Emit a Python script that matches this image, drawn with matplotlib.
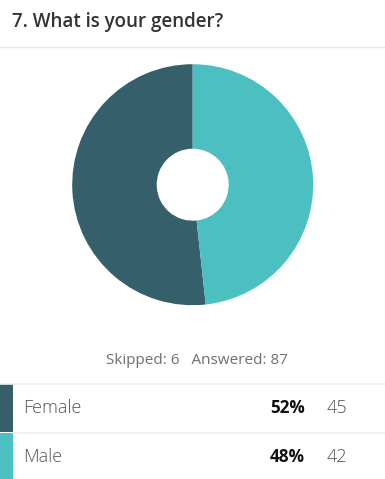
import numpy as np
import matplotlib
matplotlib.use("Agg")
from matplotlib import pyplot as plt

# Survey data
labels = ["Female", "Male"]
counts = [45, 42]
percents = ["52%", "48%"]
colors = ["#365f6c", "#4cc0c0"]
title = "7. What is your gender?"
skipped = 6
answered = 87

W, H = 385, 479

fig = plt.figure(figsize=(W / 100, H / 100), dpi=100)
fig.patch.set_facecolor("white")

# background axes in pixel coords
bg = fig.add_axes([0, 0, 1, 1])
bg.set_xlim(0, W)
bg.set_ylim(H, 0)
bg.axis("off")

bg.text(12, 22, title, fontsize=13.5, fontweight="semibold", color="#333333",
        family="Open Sans", va="center", ha="left")
bg.plot([0, W], [47, 47], color="#e8e8e8", lw=1)

# donut
cx, cy, r = 192.7, 184.7, 120.5
pie_ax = fig.add_axes([(cx - r) / W, (H - cy - r) / H, 2 * r / W, 2 * r / H])
pie_ax.pie(counts, colors=colors, startangle=90, counterclock=True,
           radius=1, wedgeprops=dict(width=1 - 36 / r, linewidth=0))
pie_ax.set_xlim(-1, 1)
pie_ax.set_ylim(-1, 1)
pie_ax.set_aspect("equal")
pie_ax.axis("off")

bg.text(197, 361, "Skipped: {}   Answered: {}".format(skipped, answered),
        fontsize=11, color="#6f6f6f", family="Open Sans", ha="center", va="center")

# table rows
row_tops = [384, 433]
row_h = 49
bg.plot([0, W], [383.5, 383.5], color="#eeeeee", lw=1.2)
for i, (lab, pct, n, c) in enumerate(zip(labels, percents, counts, colors)):
    top = row_tops[i]
    bg.add_patch(plt.Rectangle((0, top), 12.7, row_h - (1 if i == 0 else 0),
                               color=c, lw=0))
    if i > 0:
        bg.plot([12.7, W], [top, top], color="#eeeeee", lw=1.2)
    mid = top + 24
    bg.text(23, mid, lab, fontsize=13, color="#555555", family="Open Sans",
            fontweight="light", ha="left", va="center")
    bg.text(305, mid, pct, fontsize=12.3, color="#111111", family="Open Sans",
            fontweight="bold", ha="right", va="center")
    bg.text(327, mid, str(n), fontsize=13, color="#555555", family="Open Sans",
            fontweight="light", ha="left", va="center")

fig.savefig("out.png", dpi=100)
